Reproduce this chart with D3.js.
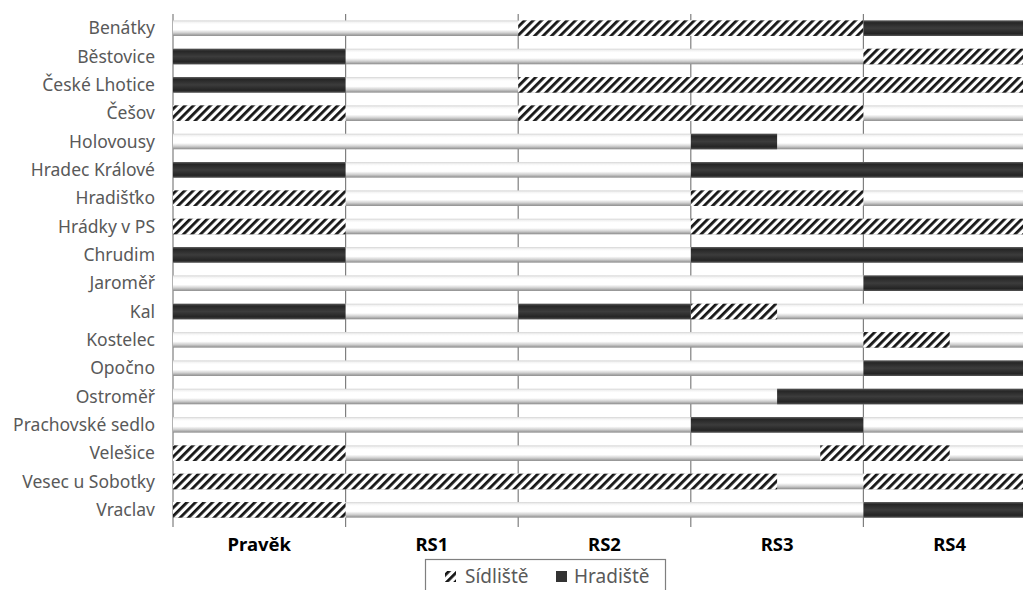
<!DOCTYPE html>
<html>
<head>
<meta charset="utf-8">
<script src="https://cdn.jsdelivr.net/npm/d3@7"></script>
<style>
  body { margin: 0; background: #fff; }
  svg { display: block; font-family: "Noto Sans", "Open Sans", sans-serif; }
</style>
</head>
<body>
<svg id="chart" width="1023" height="590"></svg>
<script>
// sites (top to bottom)
const sites = ["Benátky", "Běstovice", "České Lhotice", "Češov", "Holovousy", "Hradec Králové",
  "Hradišťko", "Hrádky v PS", "Chrudim", "Jaroměř", "Kal", "Kostelec", "Opočno", "Ostroměř",
  "Prachovské sedlo", "Velešice", "Vesec u Sobotky", "Vraclav"];

const periods = ["Pravěk", "RS1", "RS2", "RS3", "RS4"];

// segments [site, from, to] in period units (0 = start of Pravěk, 5 = end of RS4)
const sidliste = [
  ["Benátky", 2, 4], ["Běstovice", 4, 5], ["České Lhotice", 2, 5],
  ["Češov", 0, 1], ["Češov", 2, 4], ["Hradišťko", 0, 1], ["Hradišťko", 3, 4],
  ["Hrádky v PS", 0, 1], ["Hrádky v PS", 3, 5], ["Kal", 3, 3.5], ["Kostelec", 4, 4.5],
  ["Velešice", 0, 1], ["Velešice", 3.75, 4.5], ["Vesec u Sobotky", 0, 3.5],
  ["Vesec u Sobotky", 4, 5], ["Vraclav", 0, 1]
];

const hradiste = [
  ["Benátky", 4, 5], ["Běstovice", 0, 1], ["České Lhotice", 0, 1], ["Holovousy", 3, 3.5],
  ["Hradec Králové", 0, 1], ["Hradec Králové", 3, 5], ["Chrudim", 0, 1], ["Chrudim", 3, 5],
  ["Jaroměř", 4, 5], ["Kal", 0, 1], ["Kal", 2, 3], ["Opočno", 4, 5], ["Ostroměř", 3.5, 5],
  ["Prachovské sedlo", 3, 4], ["Vraclav", 4, 5]
];

const legendItems = ["Sídliště", "Hradiště"];

const svg = d3.select("#chart");
const margin = {left: 173, top: 14, bottom: 524};
const colW = 172.6;

const x = d3.scaleLinear().domain([0, periods.length]).range([margin.left, margin.left + colW * periods.length]);
const y = d3.scaleBand().domain(sites).range([margin.top, margin.bottom]).paddingInner(0.45).paddingOuter(0.225);

const defs = svg.append("defs");

// white base bar gradient
const gw = defs.append("linearGradient").attr("id", "gWhite").attr("x1", 0).attr("y1", 0).attr("x2", 0).attr("y2", 1);
[[0, "#d4d4d4"], [0.12, "#f4f4f4"], [0.25, "#ffffff"], [0.6, "#ffffff"], [0.8, "#d0d0d0"], [1, "#8a8a8a"]]
  .forEach(s => gw.append("stop").attr("offset", s[0]).attr("stop-color", s[1]));

// dark bar gradient
const gd = defs.append("linearGradient").attr("id", "gDark").attr("x1", 0).attr("y1", 0).attr("x2", 0).attr("y2", 1);
[[0, "#5a5a5a"], [0.15, "#262626"], [0.5, "#3c3c3c"], [0.85, "#242424"], [1, "#505050"]]
  .forEach(s => gd.append("stop").attr("offset", s[0]).attr("stop-color", s[1]));

// hatch pattern
const pat = defs.append("pattern").attr("id", "hatch").attr("patternUnits", "userSpaceOnUse")
  .attr("width", 6).attr("height", 6).attr("patternTransform", "rotate(45)");
pat.append("rect").attr("width", 6).attr("height", 6).attr("fill", "#fff");
pat.append("rect").attr("x", 0).attr("width", 2.8).attr("height", 6).attr("fill", "#161616");

// vertical grid lines
svg.append("g").selectAll("line").data(d3.range(periods.length + 1)).join("line")
  .attr("x1", d => x(d)).attr("x2", d => x(d))
  .attr("y1", margin.top).attr("y2", margin.bottom + 3)
  .attr("stroke", "#7f7f7f").attr("stroke-width", 1.2);

// base bars
svg.append("g").selectAll("rect").data(sites).join("rect")
  .attr("x", x(0)).attr("width", x(periods.length) - x(0))
  .attr("y", d => y(d)).attr("height", y.bandwidth())
  .attr("fill", "url(#gWhite)");

svg.append("g").selectAll("rect").data(sidliste).join("rect")
  .attr("x", d => x(d[1])).attr("width", d => x(d[2]) - x(d[1]))
  .attr("y", d => y(d[0])).attr("height", y.bandwidth())
  .attr("fill", "url(#hatch)");

svg.append("g").selectAll("rect").data(hradiste).join("rect")
  .attr("x", d => x(d[1])).attr("width", d => x(d[2]) - x(d[1]))
  .attr("y", d => y(d[0])).attr("height", y.bandwidth())
  .attr("fill", "url(#gDark)");

// y labels
svg.append("g").selectAll("text").data(sites).join("text")
  .attr("x", 155).attr("y", d => y(d) + y.bandwidth() / 2)
  .attr("dy", "0.35em").attr("text-anchor", "end")
  .attr("font-size", 17.5).attr("fill", "#595959")
  .text(d => d);

// period labels
svg.append("g").selectAll("text").data(periods).join("text")
  .attr("x", (d, i) => x(i + 0.5)).attr("y", 551)
  .attr("text-anchor", "middle").attr("font-size", 18.5).attr("font-weight", "bold")
  .attr("fill", "#000").text(d => d);

// legend
const lg = svg.append("g");
lg.append("rect").attr("x", 425.5).attr("y", 559.5).attr("width", 240).attr("height", 40)
  .attr("fill", "#fff").attr("stroke", "#7f7f7f").attr("stroke-width", 1.2);
lg.append("rect").attr("x", 445).attr("y", 571).attr("width", 11).attr("height", 11).attr("fill", "url(#hatch)");
lg.append("text").attr("x", 465).attr("y", 583).attr("font-size", 19).attr("fill", "#595959").text(legendItems[0]);
lg.append("rect").attr("x", 556).attr("y", 571).attr("width", 11).attr("height", 11).attr("fill", "#333");
lg.append("text").attr("x", 574).attr("y", 583).attr("font-size", 19).attr("fill", "#595959").text(legendItems[1]);
</script>
</body>
</html>
